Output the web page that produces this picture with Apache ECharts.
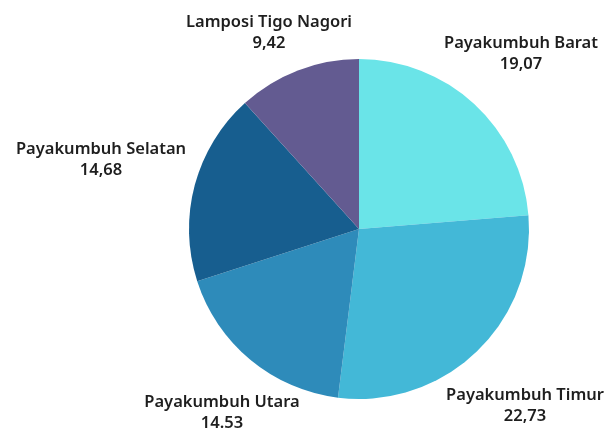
<!DOCTYPE html>
<html lang="en">
<head>
    <meta charset="UTF-8">
    <title>Pie</title>
    <script src="https://cdn.jsdelivr.net/npm/echarts@6/dist/echarts.min.js"></script>
    <style>
        html, body { margin: 0; padding: 0; background: #fff; }
    </style>
</head>
<body>
    <div id="chart" style="width: 609px;height:428px;"></div>
<script type="text/javascript">
    var names = ['Payakumbuh Barat', 'Payakumbuh Timur', 'Payakumbuh Utara', 'Payakumbuh Selatan', 'Lamposi Tigo Nagori'];
    var values = [19.07, 22.73, 14.53, 14.68, 9.42];
    var valueText = ['19,07', '22,73', '14.53', '14,68', '9,42'];
    var colors = ['#6ae4e8', '#43b8d7', '#2e8bba', '#175e8f', '#635b91'];

    // label centre points (px)
    var labelPos = [[521, 54], [525, 406], [222, 413], [101, 160], [269, 33]];

    var myChart = echarts.init(document.getElementById('chart'));

    var data = [];
    for (var i = 0; i < names.length; i++) {
        data.push({ name: names[i], value: values[i], itemStyle: { color: colors[i] } });
    }

    var option = {
        animation: false,
        series: [{
            type: 'pie',
            center: [359, 229],
            radius: 170,
            startAngle: 90,
            clockwise: true,
            data: data,
            itemStyle: { borderWidth: 0 },
            label: {
                show: true,
                position: 'outside',
                overflow: 'none',
                formatter: function (p) {
                    return p.name + '\n' + valueText[p.dataIndex];
                },
                color: '#1e1e1e',
                fontFamily: 'Noto Sans',
                fontWeight: 600,
                fontSize: 16.5,
                lineHeight: 21,
                align: 'center'
            },
            labelLine: { show: false },
            labelLayout: function (params) {
                var p = labelPos[params.dataIndex];
                return { x: p[0], y: p[1], align: 'center', verticalAlign: 'middle' };
            }
        }]
    };
    myChart.setOption(option);
</script>
</body>
</html>
